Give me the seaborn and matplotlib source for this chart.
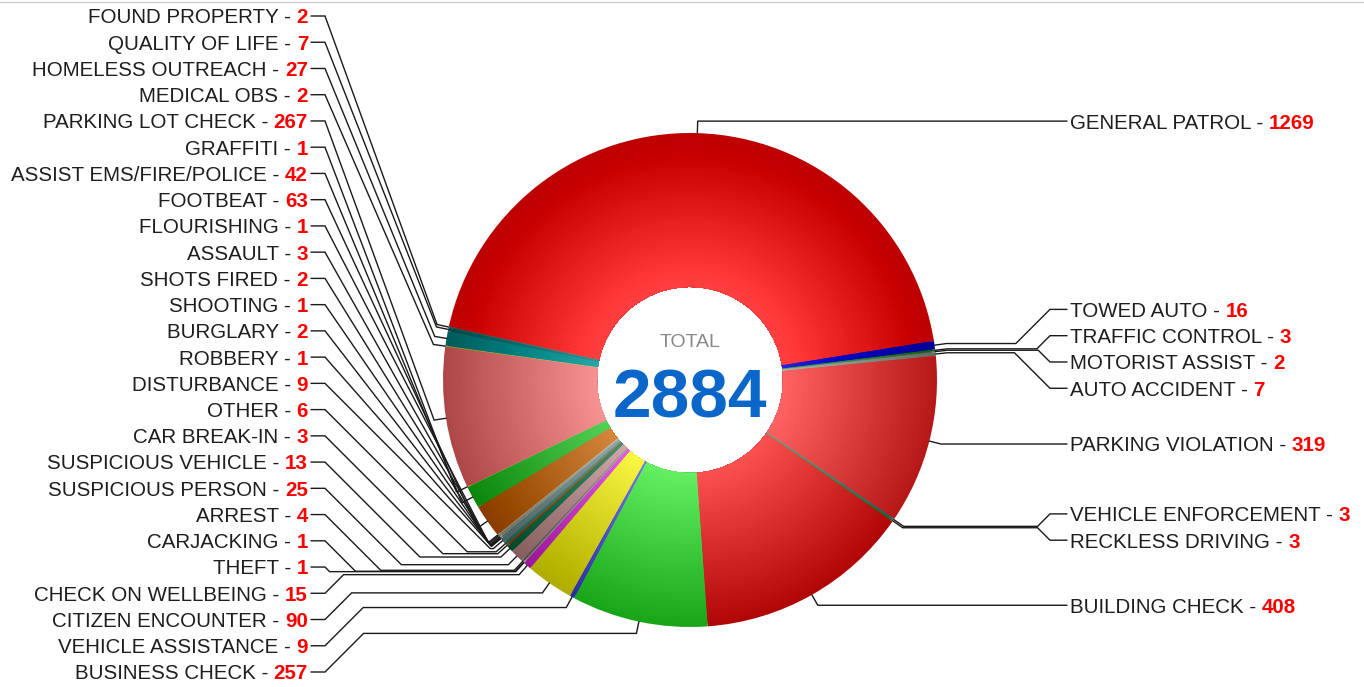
import numpy as np
import pandas as pd
import matplotlib
matplotlib.use("Agg")
import matplotlib.pyplot as plt
import matplotlib.colors as mcolors
import seaborn as sns

# slices in clockwise order, starting with GENERAL PATROL
categories = [
    "GENERAL PATROL", "TOWED AUTO", "TRAFFIC CONTROL", "MOTORIST ASSIST",
    "AUTO ACCIDENT", "PARKING VIOLATION", "VEHICLE ENFORCEMENT",
    "RECKLESS DRIVING", "BUILDING CHECK", "BUSINESS CHECK",
    "VEHICLE ASSISTANCE", "CITIZEN ENCOUNTER", "CHECK ON WELLBEING", "THEFT",
    "CARJACKING", "ARREST", "SUSPICIOUS PERSON", "SUSPICIOUS VEHICLE",
    "CAR BREAK-IN", "OTHER", "DISTURBANCE", "ROBBERY", "BURGLARY", "SHOOTING",
    "SHOTS FIRED", "ASSAULT", "FLOURISHING", "FOOTBEAT",
    "ASSIST EMS/FIRE/POLICE", "GRAFFITI", "PARKING LOT CHECK", "MEDICAL OBS",
    "HOMELESS OUTREACH", "QUALITY OF LIFE", "FOUND PROPERTY",
]
counts = [
    1269, 16, 3, 2, 7, 319, 3, 3, 408, 257,
    9, 90, 15, 1, 1, 4, 25, 13, 3, 6,
    9, 1, 2, 1, 2, 3, 1, 63, 42, 1,
    267, 2, 27, 7, 2,
]
slice_colors = [
    "#ff3737", "#1a1ad8", "#33aa33", "#8c8c8c", "#a0b0a0", "#f85a5a",
    "#5fa0a0", "#60a060", "#f24848", "#5ae85a", "#6e6ee6", "#f2ee3c",
    "#dd55dd", "#c0c0c0", "#d0d0a0", "#909090", "#c8a0a0", "#3a8a6a",
    "#d2601e", "#5a9a8a", "#8aa0a0", "#a0a0a0", "#7fa0a0", "#d0d0b0",
    "#a0b090", "#b0b0b0", "#e0e0c0", "#cc7e34", "#4cc84c", "#d8d890",
    "#f08a8a", "#c8c870", "#1e9e9e", "#2a8a8a", "#6a8a8a",
]
total_label = "TOTAL"

df = pd.DataFrame({"name": categories, "count": counts, "color": slice_colors})
total = df["count"].sum()

W, H = 1364, 687
CX, CY = 690, 380          # pie centre in image pixels (y down)
R_OUT, R_IN = 247, 93
START = 167.5
FS = 14.8
FS_PX = FS * 100 / 72
SPACE = 0.278 * FS_PX


def shade(c, t):
    rgb = np.array(mcolors.to_rgb(c))
    return tuple(np.clip(rgb + (0.21 - 0.47 * t), 0, 1))


def spread(ys, gap, lo, hi):
    ys = np.asarray(ys, float)
    groups = []
    for i in np.argsort(ys, kind="stable"):
        groups.append([ys[i], [i]])
        while True:
            g = groups[-1]
            g[0] = min(max(g[0], lo), hi - gap * (len(g[1]) - 1))
            if len(groups) > 1 and groups[-2][0] + gap * len(groups[-2][1]) > g[0]:
                a = groups.pop()
                b = groups[-1]
                b[1] = b[1] + a[1]
                b[0] = ys[np.array(b[1])].mean() - gap * (len(b[1]) - 1) / 2
                continue
            break
    out = np.empty_like(ys)
    for start, idx in groups:
        for k, i in enumerate(idx):
            out[i] = start + k * gap
    return out


sns.set_theme(style="white")
plt.rcParams["font.family"] = ["Liberation Sans", "DejaVu Sans"]

fig = plt.figure(figsize=(W / 100, H / 100), dpi=100)
ax = fig.add_axes([0, 0, 1, 1])

# radial gradient: stack of rings, outermost first
n_rings = 48
for k in range(n_rings - 1, -1, -1):
    r = R_IN + (R_OUT - R_IN) * (k + 1) / n_rings
    t = (r - (R_OUT - R_IN) / n_rings / 2) / R_OUT
    ax.pie(df["count"], radius=r, center=(CX, H - CY), startangle=START,
           counterclock=False, colors=[shade(c, t) for c in df["color"]],
           wedgeprops=dict(width=r - R_IN, linewidth=0))

ax.set_xlim(0, W)
ax.set_ylim(0, H)
ax.set_aspect("auto")
ax.axis("off")

# label geometry
cum = df["count"].cumsum() - df["count"] / 2
mid = np.deg2rad(START - 360 * cum / total)
p0x = CX + R_OUT * np.cos(mid)
p0y = CY - R_OUT * np.sin(mid)
p1x = CX + (R_OUT + 12) * np.cos(mid)
p1y = CY - (R_OUT + 12) * np.sin(mid)
right = np.cos(mid) >= 0

label_y = np.zeros(len(df))
ri = np.where(right)[0]
li = np.where(~right)[0]
label_y[ri] = spread(p1y[ri], 26.3, 16, 672)
label_y[li] = spread(p1y[li], 26.24, 16, 672)

renderer = fig.canvas.get_renderer()
line_kw = dict(color="#1a1a1a", lw=1.0, solid_joinstyle="miter")

for i, row in df.iterrows():
    yl = label_y[i]
    if right[i]:
        xs = 1050
        cxk = max(p1x[i], xs - abs(yl - p1y[i]))
        pts = [(p0x[i], p0y[i]), (p1x[i], p1y[i]), (cxk, p1y[i]), (xs, yl), (1067, yl)]
    else:
        xs = 325
        cxk = min(p1x[i], xs + abs(yl - p1y[i]))
        pts = [(p0x[i], p0y[i]), (p1x[i], p1y[i]), (cxk, p1y[i]), (xs, yl), (311, yl)]
    xx = [p[0] for p in pts]
    yy = [H - p[1] for p in pts]
    ax.plot(xx, yy, **line_kw)

    base = H - yl - 0.36 * FS_PX
    if right[i]:
        t1 = ax.text(1070, base, f"{row['name']} -", ha="left", va="baseline",
                     fontsize=FS, color="#1e1e1e")
        w = t1.get_window_extent(renderer=renderer).width
        ax.text(1070 + w + SPACE, base, str(row["count"]), ha="left",
                va="baseline", fontsize=FS, color="#ff0000", fontweight="bold")
    else:
        t2 = ax.text(308, base, str(row["count"]), ha="right", va="baseline",
                     fontsize=FS, color="#ff0000", fontweight="bold")
        w = t2.get_window_extent(renderer=renderer).width
        ax.text(308 - w - SPACE, base, f"{row['name']} -", ha="right",
                va="baseline", fontsize=FS, color="#1e1e1e")

# centre text
ax.text(CX, H - 347, total_label, ha="center", va="baseline", fontsize=14,
        color="#888888")
ax.text(CX, H - 418, str(total), ha="center", va="baseline", fontsize=50,
        color="#0a66c8", fontweight="bold")

ax.plot([0, W], [H - 1.5, H - 1.5], color="#cccccc", lw=1)

fig.savefig("out.png", dpi=100)
